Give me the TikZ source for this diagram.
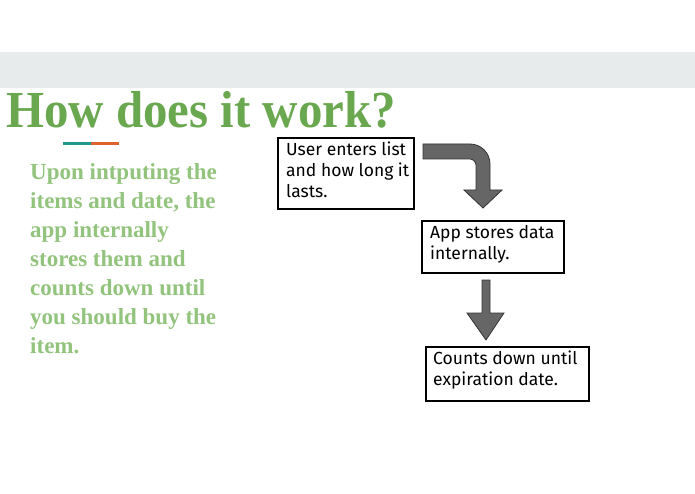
\documentclass[tikz,border=0pt]{standalone}
\usepackage{fontspec}
\setmainfont{Liberation Serif}
\newfontfamily\fira{Fira Sans}
\definecolor{band}{HTML}{E8EBEC}
\definecolor{titlegreen}{HTML}{6AA84F}
\definecolor{bodygreen}{HTML}{93C47D}
\definecolor{teal}{HTML}{1E9A8A}
\definecolor{orng}{HTML}{E0622A}
\definecolor{arrowfill}{HTML}{666666}
\tikzset{
  stepbox/.style={anchor=north west, align=left, inner sep=0pt, font=\fira\fontsize{17.5}{21}\selectfont},
  blockarrow/.style={fill=arrowfill, draw=black!80, line width=0.8pt, line join=miter}
}
\begin{document}
\begin{tikzpicture}[x=1pt,y=-1pt]
\useasboundingbox (0,0) rectangle (695,494);
\fill[white] (0,0) rectangle (695,494);
\fill[band] (0,52) rectangle (695,88);
\node[anchor=base west, inner sep=0pt, text=titlegreen, font=\bfseries\fontsize{52}{56}\selectfont, xscale=0.94] (title) at (6,128) {How does it work?};
\draw[teal, line width=3pt] (63,144) -- (91,144);
\draw[orng, line width=3pt] (91,144) -- (119,144);
\node[anchor=north west, inner sep=0pt, text=bodygreen, align=left, font=\bfseries\fontsize{23}{29}\selectfont] (body) at (30,163) {Upon intputing the\\items and date, the\\app internally\\stores them and\\counts down until\\you should buy the\\item.};
% boxes
\draw[line width=1.2pt] (278,138) rectangle (414,209);
\node[stepbox] (b1) at (286,142) {User enters list\\and how long it\\lasts.};
\draw[line width=1.2pt] (422,221) rectangle (564,273);
\node[stepbox] (b2) at (430,225) {App stores data\\internally.};
\draw[line width=1.2pt] (426,347) rectangle (589,401);
\node[stepbox] (b3) at (433,351) {Counts down until\\expiration date.};
% arrows
\draw[blockarrow] (423,144) -- (470,144) .. controls (481,144) and (490,153) .. (490,164) -- (490,190) -- (502,190) -- (483,208) -- (464,190) -- (476,190) -- (476,165) .. controls (476,162) and (473,159) .. (470,159) -- (423,159) -- cycle;
\draw[blockarrow] (482,280) -- (490,280) -- (490,313) -- (504,313) -- (486,340) -- (467,313) -- (482,313) -- cycle;
\end{tikzpicture}
\end{document}
